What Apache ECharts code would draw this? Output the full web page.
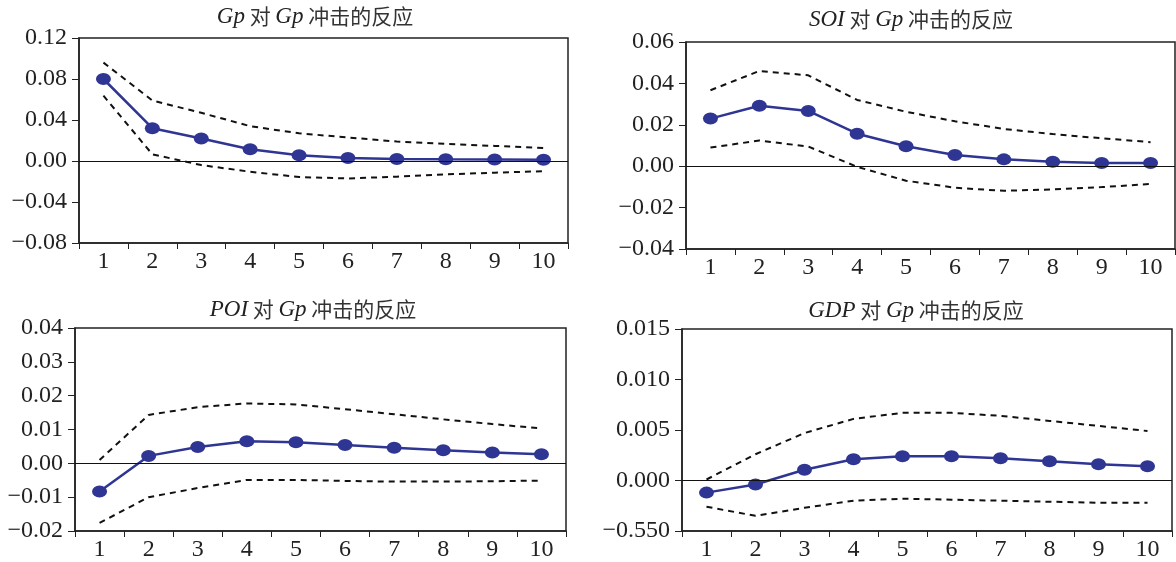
<!DOCTYPE html>
<html>
<head>
<meta charset="utf-8">
<script src="https://cdn.jsdelivr.net/npm/echarts@6/dist/echarts.min.js"></script>
<style>
html,body{margin:0;padding:0;background:#fff;}
#chart{width:1176px;height:562px;}
</style>
</head>
<body>
<div id="chart"></div>
<script>
// ---- data ----
const periods = ['1','2','3','4','5','6','7','8','9','10'];

const gpMain  = [0.080, 0.032, 0.022, 0.0114, 0.0056, 0.0030, 0.0020, 0.0016, 0.0015, 0.0013];
const gpUpper = [0.096, 0.059, 0.047, 0.034, 0.027, 0.023, 0.019, 0.0167, 0.0147, 0.0127];
const gpLower = [0.0637, 0.0065, -0.004, -0.0105, -0.0157, -0.017, -0.0153, -0.013, -0.0114, -0.010];
const gpTicks = ['\u22120.08','\u22120.04','0.00','0.04','0.08','0.12'];

const soiMain  = [0.023, 0.0292, 0.0267, 0.0157, 0.0096, 0.0054, 0.0033, 0.0021, 0.0016, 0.0015];
const soiUpper = [0.0367, 0.046, 0.0439, 0.032, 0.0263, 0.0217, 0.018, 0.0155, 0.0135, 0.0116];
const soiLower = [0.009, 0.0124, 0.0095, -0.0003, -0.007, -0.0104, -0.0119, -0.0112, -0.0101, -0.0086];
const soiTicks = ['\u22120.04','\u22120.02','0.00','0.02','0.04','0.06'];

const poiMain  = [-0.0083, 0.0022, 0.0048, 0.0065, 0.0062, 0.0054, 0.0046, 0.0039, 0.0032, 0.0027];
const poiUpper = [0.001, 0.0143, 0.0166, 0.0177, 0.0174, 0.016, 0.0145, 0.013, 0.0116, 0.0103];
const poiLower = [-0.0176, -0.010, -0.0073, -0.0049, -0.0049, -0.0052, -0.0054, -0.0054, -0.0053, -0.0051];
const poiTicks = ['\u22120.02','\u22120.01','0.00','0.01','0.02','0.03','0.04'];

const gdpMain  = [-0.0012, -0.0004, 0.00107, 0.0021, 0.0024, 0.0024, 0.0022, 0.0019, 0.0016, 0.0014];
const gdpUpper = [0.0001, 0.0026, 0.0047, 0.0061, 0.0067, 0.0067, 0.0064, 0.0059, 0.0054, 0.0049];
const gdpLower = [-0.0026, -0.0035, -0.0027, -0.0020, -0.0018, -0.0019, -0.0020, -0.0021, -0.0022, -0.0022];
const gdpTicks = ['\u22120.550','0.000','0.005','0.010','0.015'];

const panelTitles = [
  ['Gp', ' 对 ', 'Gp', ' 冲击的反应'],
  ['SOI', ' 对 ', 'Gp', ' 冲击的反应'],
  ['POI', ' 对 ', 'Gp', ' 冲击的反应'],
  ['GDP', ' 对 ', 'Gp', ' 冲击的反应']
];

// ---- layout ----
const panels = [
  {main: gpMain,  up: gpUpper,  lo: gpLower,  ticks: gpTicks,  min: -0.08,  max: 0.12,  step: 0.04,
   grid: {left: 79, top: 38, width: 489, height: 205}, tx: 310, ty: 0},
  {main: soiMain, up: soiUpper, lo: soiLower, ticks: soiTicks, min: -0.04,  max: 0.06,  step: 0.02,
   grid: {left: 686, top: 42, width: 489, height: 207}, tx: 906, ty: 3},
  {main: poiMain, up: poiUpper, lo: poiLower, ticks: poiTicks, min: -0.02,  max: 0.04,  step: 0.01,
   grid: {left: 75, top: 328, width: 491, height: 205}, tx: 308, ty: 293},
  {main: gdpMain, up: gdpUpper, lo: gdpLower, ticks: gdpTicks, min: -0.005, max: 0.015, step: 0.005,
   grid: {left: 682, top: 329, width: 490, height: 206}, tx: 911, ty: 294}
];

const serif = '"Liberation Serif", "DejaVu Serif", serif';
const cjk = '"Noto Sans CJK SC", sans-serif';

const option = {
  animation: false,
  backgroundColor: '#ffffff',
  title: [], grid: [], xAxis: [], yAxis: [], series: []
};

panels.forEach((p, i) => {
  const t = panelTitles[i];
  option.title.push({
    text: '{i|' + t[0] + '}{c|' + t[1] + '}{i|' + t[2] + '}{c|' + t[3] + '}',
    left: p.tx, top: p.ty, textAlign: 'center',
    textStyle: {
      fontWeight: 'normal',
      rich: {
        i: {fontFamily: serif, fontStyle: 'italic', fontWeight: 'normal', fontSize: 23, color: '#222'},
        c: {fontFamily: cjk, fontSize: 21, fontWeight: 'normal', color: '#333'}
      }
    }
  });
  option.grid.push(Object.assign({show: true, borderColor: '#222', borderWidth: 1.5, backgroundColor: 'transparent'}, p.grid));
  option.xAxis.push({
    type: 'category', gridIndex: i, data: periods, boundaryGap: true,
    axisLine: {onZero: false, lineStyle: {color: '#222', width: 1.5}},
    axisTick: {show: true, inside: false, length: 6, alignWithLabel: false, lineStyle: {color: '#222'}},
    axisLabel: {fontFamily: serif, fontSize: 24, color: '#222', margin: 7},
    splitLine: {show: false}
  });
  option.yAxis.push({
    type: 'value', gridIndex: i, min: p.min, max: p.max, interval: p.step,
    axisLine: {show: true, lineStyle: {color: '#222', width: 1.5}},
    axisTick: {show: true, length: 7, lineStyle: {color: '#222'}},
    axisLabel: {
      fontFamily: serif, fontSize: 24, color: '#222', margin: 12,
      formatter: (v) => p.ticks[Math.round((v - p.min) / p.step)]
    },
    splitLine: {show: false}
  });
  option.series.push({
    type: 'line', xAxisIndex: i, yAxisIndex: i, data: p.up, showSymbol: false, symbol: 'none',
    lineStyle: {color: '#111', width: 2, type: [6, 5]}, z: 2
  });
  option.series.push({
    type: 'line', xAxisIndex: i, yAxisIndex: i, data: p.lo, showSymbol: false, symbol: 'none',
    lineStyle: {color: '#111', width: 2, type: [6, 5]}, z: 2
  });
  option.series.push({
    type: 'line', xAxisIndex: i, yAxisIndex: i, data: p.main,
    symbol: 'circle', symbolSize: [15, 12],
    itemStyle: {color: '#2f3592'},
    lineStyle: {color: '#2f3592', width: 2.5},
    markLine: {
      silent: true, symbol: 'none', label: {show: false},
      lineStyle: {color: '#111', width: 1, type: 'solid'},
      data: [{yAxis: 0}]
    },
    z: 3
  });
});

const chart = echarts.init(document.getElementById('chart'), null, {renderer: 'canvas'});
chart.setOption(option);
</script>
</body>
</html>
